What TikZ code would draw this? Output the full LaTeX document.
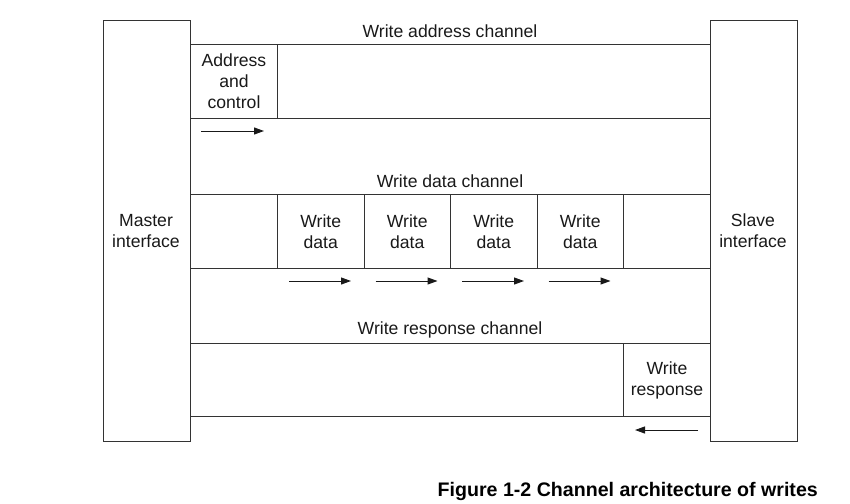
\documentclass[tikz,border=0pt]{standalone}
\usepackage{fontspec}
\setmainfont{Liberation Sans}
\usetikzlibrary{arrows.meta}
\begin{document}
\begin{tikzpicture}[x=1pt,y=-1pt,
  ln/.style={draw=black!80,line width=1pt},
  box/.style={ln,rectangle,inner sep=0pt,anchor=north west},
  lbl/.style={font=\fontsize{17.6}{21}\selectfont,align=center,inner sep=0pt,text=black!90},
  flow/.style={line width=1pt,draw=black!90,-{Triangle[length=10pt,width=7pt]}}]
\useasboundingbox (0,0) rectangle (850,503);
% master & slave
\node[box,minimum width=87pt,minimum height=421pt] (master) at (103,20) {};
\node[box,minimum width=87pt,minimum height=421pt] (slave) at (710,20) {};
\node[lbl] (mlabel) at (146,231) {Master\\interface};
\node[lbl] (slabel) at (753,231) {Slave\\interface};
% address channel
\node[box,minimum width=520pt,minimum height=74pt] (ach) at (190,44) {};
\node[lbl] (achl) at (450,31) {Write address channel};
\node[box,minimum width=87pt,minimum height=74pt] (addr) at (190,44) {};
\node[lbl] at (addr.center) {Address\\and\\control};
\coordinate (a1s) at (201,131); \coordinate (a1e) at (264,131);
\draw[flow] (a1s) -- (a1e);
% data channel
\node[box,minimum width=520pt,minimum height=74pt] (dch) at (190,194) {};
\node[lbl] (dchl) at (450,181) {Write data channel};
\foreach \i/\x in {1/277,2/363.5,3/450,4/536.5}{
  \node[box,minimum width=86.5pt,minimum height=74pt] (wd\i) at (\x,194) {};
  \node[lbl] at (wd\i.center) {Write\\data};
  \coordinate (ds\i) at (\x+12,281);
  \coordinate (de\i) at (\x+74,281);
  \draw[flow] (ds\i) -- (de\i);
}
% response channel
\node[box,minimum width=520pt,minimum height=73pt] (rch) at (190,343) {};
\node[lbl] (rchl) at (450,330) {Write response channel};
\node[box,minimum width=87pt,minimum height=73pt] (resp) at (623,343) {};
\node[lbl] at (resp.center) {Write\\response};
\coordinate (rs) at (698,430); \coordinate (re) at (635,430);
\draw[flow] (rs) -- (re);
% caption
\node[font=\fontsize{19.6}{23}\selectfont\bfseries,inner sep=0pt,anchor=east] (cap) at (818,491) {Figure 1-2 Channel architecture of writes};
\end{tikzpicture}
\end{document}
